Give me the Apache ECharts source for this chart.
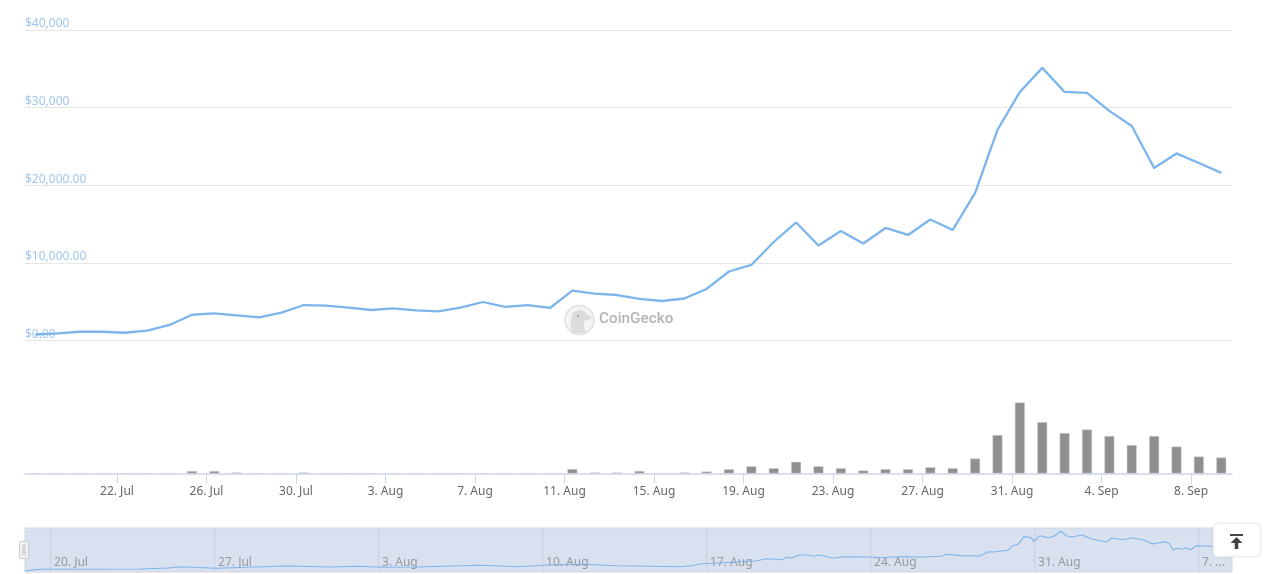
<!DOCTYPE html>
<html>
<head>
<meta charset="utf-8">
<style>html,body{margin:0;padding:0;background:#fff}#c{width:1269px;height:574px}</style>
<script src="https://cdn.jsdelivr.net/npm/echarts@6/dist/echarts.min.js"></script>
</head>
<body>
<div id="c"></div>
<script>
// Days are counted from 18 Jul (day 0)
const firstPointDay = 0.35;
const priceValues = [770,930,1130,1130,1000,1260,2000,3320,3500,3250,2990,3580,4570,4480,4230,3930,4150,3890,3760,4230,4960,4320,4570,4190,6420,6030,5860,5350,5090,5410,6640,8890,9730,12690,15210,12240,14110,12500,14500,13600,15590,14240,19010,27130,32020,35120,32020,31890,29580,27640,22230,24100,22870,21590];
const volumeValues = [0,0,0,0,0,0,0,2.5,2.5,1,0,0,1,0,0,0,0,0,0,0,0,0,0,0,4.5,1,1,2.5,0,1,2,4.3,7.3,5.3,11.7,7.3,5.3,3,4.3,4.3,6.3,5.3,15,38.5,71,51.5,40.5,44,37.5,28.5,37.5,27,17,16];
const priceTickLabels = ['$0.00','$10,000.00','$20,000.00','$30,000','$40,000'];
const mainTickDays = [4,8,12,16,20,24,28,32,36,40,44,48,52];
const mainTickLabels = ['22. Jul','26. Jul','30. Jul','3. Aug','7. Aug','11. Aug','15. Aug','19. Aug','23. Aug','27. Aug','31. Aug','4. Sep','8. Sep'];
const navTickDays = [2,9,16,23,30,37,44,51];
const navTickLabels = ['20. Jul','27. Jul','3. Aug','10. Aug','17. Aug','24. Aug','31. Aug','7. ...'];
const navDays = [0.93,1.57,5.84,7.0,7.68,8.10,9.04,10.41,12.12,13.95,15.23,16.08,17.66,20.35,21.93,23.34,24.75,26.2,28.89,29.39,29.74,30.30,32.09,32.59,33.23,33.44,33.65,34.01,34.36,34.58,34.83,35.43,35.86,36.99,37.56,38.14,39.27,40.06,40.27,40.84,41.69,42.05,42.25,42.89,43.09,43.31,43.57,43.86,44.0,44.25,44.61,44.89,45.14,45.36,45.61,46.07,46.46,47.10,47.31,47.81,48.17,48.73,49.06,49.59,49.80,49.94,50.09,50.30,50.51,50.70,50.91,51.65,52.45];
const navValues = [1140,2360,2630,3500,4640,4110,3240,4110,5250,4380,4990,4110,4380,5860,4640,6130,6740,5510,4640,5510,7000,7610,9630,11640,10760,12860,12250,14880,14880,13740,14880,11990,13390,13130,12510,13390,13130,13740,15490,14300,14000,17760,17500,18990,23010,24240,30890,30360,26510,31760,30010,31760,35880,31760,30630,32380,28880,26250,29750,28260,30010,27740,24500,26510,24240,19250,20740,19860,21260,19510,23010,22490,21880];

const fontFamily = '"Noto Sans", sans-serif';
const chart = echarts.init(document.getElementById('c'), null, {renderer:'canvas'});
const pricePairs = priceValues.map((v,i)=>[firstPointDay+i,v]);
const volumePairs = volumeValues.map((v,i)=>[firstPointDay+i,v]);
const navPairs = navDays.map((d,i)=>[d,navValues[i]]);
const mainMin = -0.11, mainMax = 53.83;

chart.setOption({
  animation:false,
  backgroundColor:'#fff',
  grid:[
    {left:25,width:1207,top:30,height:310.5},
    {left:25,width:1207,top:373.5,height:100},
    {left:25,width:1207,top:528,height:44,show:true,backgroundColor:'#d9e0f0',borderColor:'#d2d5dc',borderWidth:1}
  ],
  xAxis:[
    {gridIndex:0,type:'value',min:mainMin,max:mainMax,show:false,splitLine:{show:false}},
    {gridIndex:1,type:'value',min:mainMin,max:mainMax,splitLine:{show:false},
      axisLine:{show:true,onZero:false,lineStyle:{color:'#ccd6eb',width:1.5}},
      axisTick:{show:true,length:10,customValues:mainTickDays,lineStyle:{color:'#ccd6eb'}},
      axisLabel:{show:true,customValues:mainTickDays,margin:12,color:'#666',fontSize:12,fontFamily,
        formatter:v=>mainTickLabels[mainTickDays.indexOf(v)]||''}},
    {gridIndex:2,type:'value',min:0.93,max:52.45,splitLine:{show:false},
      axisLine:{show:false},
      axisTick:{show:true,inside:true,length:44,customValues:navTickDays,lineStyle:{color:'#c9cfdf'}},
      axisLabel:{show:true,inside:true,customValues:navTickDays,margin:3,align:'left',verticalAlign:'bottom',color:'#999',fontSize:12,fontFamily,
        padding:[0,0,0,4],hideOverlap:false,
        formatter:v=>navTickLabels[navTickDays.indexOf(v)]||''}}
  ],
  yAxis:[
    {gridIndex:0,type:'value',min:0,max:40000,interval:10000,
      axisLine:{show:false},axisTick:{show:false},
      splitLine:{show:true,lineStyle:{color:'#e6e6e6',width:1}},
      axisLabel:{inside:true,margin:0,verticalAlign:'bottom',color:'#a0c6ef',fontSize:12,fontFamily,padding:[0,0,0,0],
        formatter:v=>priceTickLabels[v/10000]}},
    {gridIndex:1,type:'value',min:0,max:100,show:false,splitLine:{show:false}},
    {gridIndex:2,type:'value',min:0,max:38500,show:false,splitLine:{show:false}}
  ],
  series:[
    {type:'line',xAxisIndex:0,yAxisIndex:0,data:pricePairs,showSymbol:false,smooth:false,lineStyle:{color:'#7cb5ec',width:2.3},z:3},
    {type:'bar',xAxisIndex:1,yAxisIndex:1,data:volumePairs,barWidth:10,itemStyle:{color:'#8f8f8f',borderColor:'#d8d8d8',borderWidth:0.5}},
    {type:'line',xAxisIndex:2,yAxisIndex:2,data:navPairs,showSymbol:false,smooth:false,lineStyle:{color:'#7cb5ec',width:1.1},z:3}
  ],
  graphic:[
    // CoinGecko watermark
    {type:'circle',shape:{cx:579.5,cy:320,r:14.5},style:{fill:'#f4f4f4',stroke:'#e0e0e0',lineWidth:1.5},z:1},
    {type:'polygon',shape:{points:[[572,333],[570.5,322],[572,314],[576,311],[581,310],[585,312],[588,315],[592,317],[590,320],[584,321],[584,326],[586,333]]},style:{fill:'#dcdcdc'},z:1},
    {type:'circle',shape:{cx:578,cy:316,r:1.2},style:{fill:'#a8a8a8'},z:1},
    {type:'text',x:599,y:312,style:{text:'CoinGecko',fill:'#b4b4b4',font:'500 15.3px Roboto, sans-serif'},z:1},
    // navigator handle
    {type:'rect',shape:{x:19.5,y:541.5,width:9,height:17,r:1},style:{fill:'#f2f2f2',stroke:'#cccccc',lineWidth:1},z:10},
    {type:'rect',shape:{x:22,y:544.5,width:4,height:11},style:{fill:'#d8d8d8'},z:11},
    // back to top button
    {type:'rect',shape:{x:1213.5,y:523.5,width:47,height:33,r:4},style:{fill:'#fff',stroke:'#eeeeee',lineWidth:1,shadowBlur:3,shadowColor:'rgba(0,0,0,0.06)'},z:12},
    {type:'rect',shape:{x:1230,y:534,width:13,height:2},style:{fill:'#444'},z:13},
    {type:'polygon',shape:{points:[[1236.5,537],[1242.5,543],[1238.3,543],[1238.3,549],[1234.7,549],[1234.7,543],[1230.5,543]]},style:{fill:'#444'},z:13}
  ]
});
</script>
</body>
</html>
